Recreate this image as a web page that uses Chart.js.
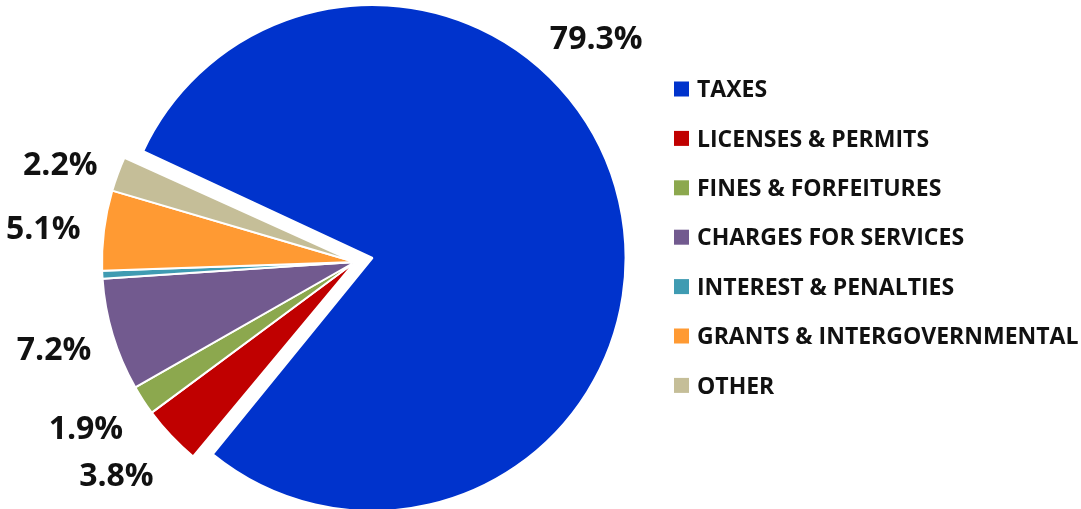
<!DOCTYPE html>
<html>
<head>
<meta charset="utf-8">
<title>Revenue by Source</title>
<script src="https://cdn.jsdelivr.net/npm/chart.js@4.4.1/dist/chart.umd.min.js"></script>
<style>
  html, body { margin: 0; padding: 0; background: #fff; }
  #wrap { width: 1081px; height: 509px; }
</style>
</head>
<body>
<div id="wrap"><canvas id="revenue-pie" width="1081" height="509"></canvas></div>
<script>
const categories = [
  "TAXES",
  "LICENSES & PERMITS",
  "FINES & FORFEITURES",
  "CHARGES FOR SERVICES",
  "INTEREST & PENALTIES",
  "GRANTS & INTERGOVERNMENTAL",
  "OTHER"
];
const shares = [79.3, 3.8, 1.9, 7.2, 0.5, 5.1, 2.2];

const sliceColors = ["#0033CC", "#C00000", "#8CA84E", "#725A8F", "#3F9BB2", "#FF9A33", "#C5BE98"];
// taxes gets pulled out of the pie, everything else stays together
const sliceOffsets = [72, 0, 0, 0, 0, 0, 0];

const FONT = "'Open Sans', 'Liberation Sans', sans-serif";

// chart.js grows the radius of an offset arc by offset/4, undo that so
// the pulled slice keeps the same size as the others
const keepRadius = {
  id: "keepRadius",
  afterDatasetsUpdate(chart) {
    chart.getDatasetMeta(0).data.forEach((arc, i) => {
      arc.outerRadius -= sliceOffsets[i] / 4;
    });
  }
};

// percentage labels just outside each slice, box pushed away from the edge
const sliceLabels = {
  id: "sliceLabels",
  afterDatasetsDraw(chart, args, opts) {
    const ctx = chart.ctx;
    const meta = chart.getDatasetMeta(0);
    ctx.save();
    ctx.font = `bold ${opts.size}px ${FONT}`;
    ctx.fillStyle = opts.color;
    ctx.textAlign = "center";
    ctx.textBaseline = "alphabetic";
    meta.data.forEach((arc, i) => {
      const v = shares[i];
      if (v < opts.minShare) return;
      const text = v.toFixed(1) + "%";
      const place = opts.place[i] || {};
      const shift = (arc.options.offset || 0) / 4;
      const mid = (arc.startAngle + arc.endAngle) / 2;
      const cx = arc.x + Math.cos(mid) * shift;
      const cy = arc.y + Math.sin(mid) * shift;
      const r = arc.outerRadius + shift;
      const ang = place.angle != null ? place.angle * Math.PI / 180 : mid;
      const d = r + (place.gap != null ? place.gap : opts.gap);
      const w = ctx.measureText(text).width;
      const x = cx + Math.cos(ang) * (d + w / 2);
      const y = cy + Math.sin(ang) * d + Math.sin(ang) * opts.size * 0.47;
      ctx.fillText(text, x, y + opts.size * 0.44);
    });
    ctx.restore();
  }
};

// square-marker legend stacked on the right
const sideLegend = {
  id: "sideLegend",
  afterDraw(chart, args, opts) {
    const ctx = chart.ctx;
    const colors = chart.data.datasets[0].backgroundColor;
    ctx.save();
    ctx.font = `bold ${opts.size}px ${FONT}`;
    ctx.textAlign = "left";
    ctx.textBaseline = "alphabetic";
    chart.data.labels.forEach((label, i) => {
      const cy = opts.top + i * opts.rowGap;
      ctx.fillStyle = colors[i];
      ctx.fillRect(opts.left, cy - opts.box / 2, opts.box, opts.box);
      ctx.fillStyle = opts.color;
      ctx.fillText(label, opts.left + opts.box + opts.textGap, cy + opts.size * 0.357);
    });
    ctx.restore();
  }
};

new Chart(document.getElementById("revenue-pie"), {
  type: "pie",
  data: {
    labels: categories,
    datasets: [{
      data: shares,
      backgroundColor: sliceColors,
      borderColor: "#ffffff",
      borderWidth: 2,
      offset: sliceOffsets
    }]
  },
  options: {
    responsive: false,
    animation: false,
    events: [],
    rotation: -65.7,
    radius: 253,
    layout: { padding: { left: 0, right: 371, top: 15, bottom: 0 } },
    plugins: {
      legend: { display: false },
      tooltip: { enabled: false },
      sliceLabels: {
        size: 32,
        color: "#111111",
        gap: 24,
        minShare: 1,
        place: {
          0: { angle: -47.7, gap: 33 },
          1: { gap: 38 },
          2: { gap: 31 }
        }
      },
      sideLegend: {
        left: 674,
        top: 89,
        rowGap: 49.4,
        box: 15,
        textGap: 8,
        size: 23,
        color: "#111111"
      }
    }
  },
  plugins: [keepRadius, sliceLabels, sideLegend]
});
</script>
</body>
</html>
